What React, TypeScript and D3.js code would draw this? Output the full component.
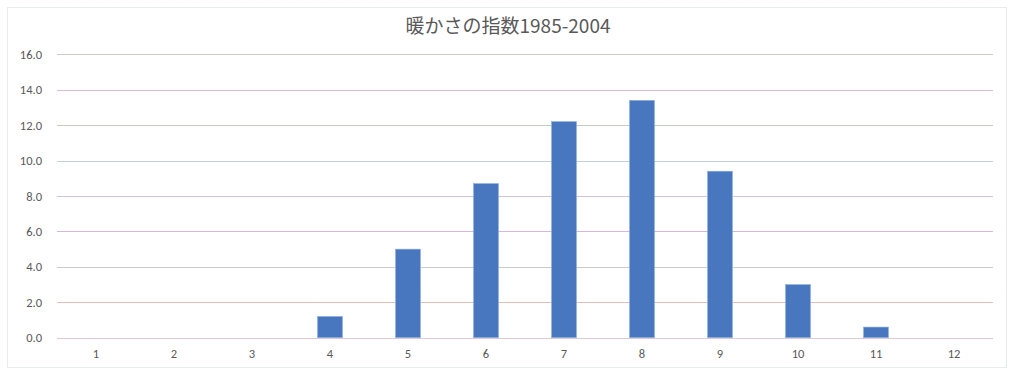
import React from "react";
import * as d3 from "d3";

const categories = ["1", "2", "3", "4", "5", "6", "7", "8", "9", "10", "11", "12"];
const values = [0, 0, 0, 1.2, 5.0, 8.7, 12.2, 13.4, 9.4, 3.0, 0.6, 0];
const yTicks = [0, 2, 4, 6, 8, 10, 12, 14, 16];
const gridColors = ["#dcc8d6", "#e2c0b4", "#c8cbc8", "#d9b7d9", "#d3c0da", "#bfd3d4", "#c4ccc4", "#dcbcdc", "#c9cdc6"];
const title = "暖かさの指数1985-2004";

const W = 1010;
const H = 369;
const plotLeft = 57;
const plotRight = 993;
const plotTop = 54.3;
const plotBottom = 337.7;

export default function App() {
  const x = d3
    .scaleBand<string>()
    .domain(categories)
    .range([plotLeft, plotRight])
    .paddingInner(0.68)
    .paddingOuter(0.34);
  const y = d3.scaleLinear().domain([0, 16]).range([plotBottom, plotTop]);
  const font = "Carlito, Calibri, 'Liberation Sans', 'Noto Sans CJK JP', sans-serif";

  return (
    <svg
      width={W}
      height={H}
      style={{ position: "absolute", left: 0, top: 0, background: "#fff" }}
    >
      <rect x={7.5} y={7.5} width={999} height={360} fill="#fff" stroke="#d3dbd3" strokeWidth={1} strokeDasharray="1,1" />
      <text
        x={508}
        y={33}
        textAnchor="middle"
        fontSize={19}
        fill="#595959"
        fontFamily="'Noto Sans CJK JP', sans-serif"
      >
        {title}
      </text>
      {yTicks.map((t, i) => (
        <g key={t}>
          <line
            x1={plotLeft}
            x2={plotRight}
            y1={Math.round(y(t)) + 0.5}
            y2={Math.round(y(t)) + 0.5}
            stroke={gridColors[i]}
            strokeWidth={1}
          />
          <text
            x={42}
            y={y(t) + 4.5}
            textAnchor="end"
            fontSize={12.5}
            fill="#595959"
            fontFamily={font}
          >
            {t.toFixed(1)}
          </text>
        </g>
      ))}
      {categories.map((c, i) => (
        <g key={c}>
          {values[i] > 0 && (
            <rect
              x={x(c)!}
              y={y(values[i])}
              width={x.bandwidth()}
              height={plotBottom - y(values[i])}
              fill="#4877c0"
              stroke="#8fb0dc"
              strokeWidth={0.6}
            />
          )}
          <text
            x={x(c)! + x.bandwidth() / 2}
            y={358}
            textAnchor="middle"
            fontSize={12.5}
            fill="#595959"
            fontFamily={font}
          >
            {c}
          </text>
        </g>
      ))}
    </svg>
  );
}
